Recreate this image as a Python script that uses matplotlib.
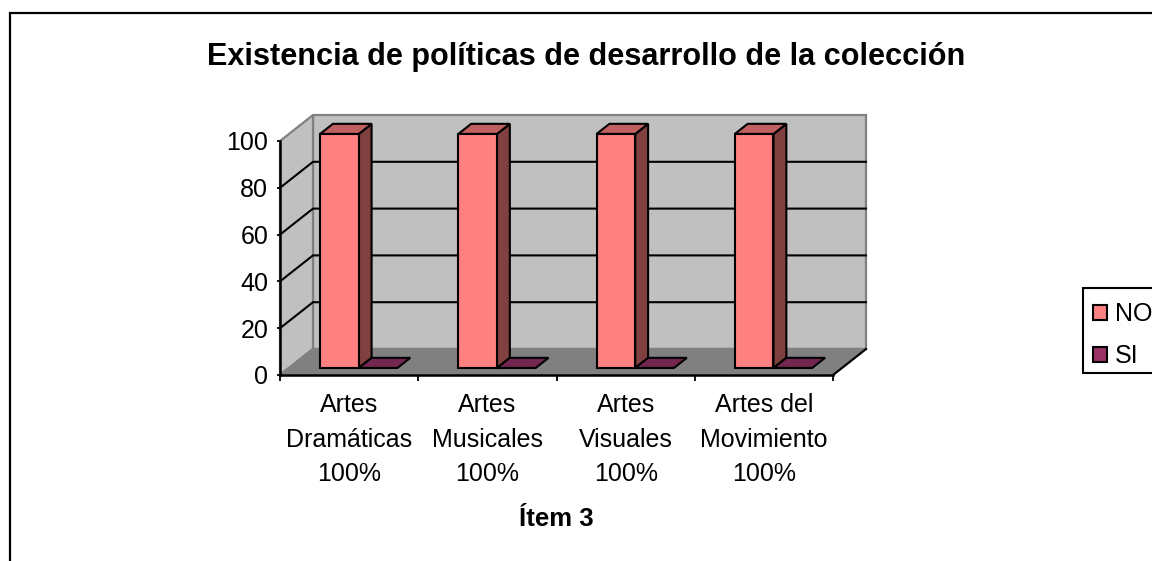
import matplotlib
matplotlib.use('Agg')
import matplotlib.pyplot as plt
from matplotlib.lines import Line2D
from matplotlib.patches import Rectangle

plt.rcParams['font.family'] = ['Liberation Sans', 'DejaVu Sans']

# Datos del grafico
categorias = ['Artes\nDramáticas\n100%', 'Artes\nMusicales\n100%',
              'Artes\nVisuales\n100%', 'Artes del\nMovimiento\n100%']
valores_no = [100, 100, 100, 100]
valores_si = [0, 0, 0, 0]
ticks_y = [0, 20, 40, 60, 80, 100]

W, H = 1152, 561
# plano frontal en pixeles
X0, X1, Y_TOP, Y_BASE = 280, 833, 141, 375

# profundidad 3D en unidades de datos
DX = 33 / ((X1 - X0) / 4)
DY = 26 / ((Y_BASE - Y_TOP) / 100)
D_FRENTE, D_FONDO = 0.27, 0.66
ANCHO = 0.28
INICIO = 0.225


def proy(x, y, d):
    return x + d * DX, y + d * DY


def cara(ax, puntos, color, edge='black', lw=1.5, z=3):
    xs = [p[0] for p in puntos]
    ys = [p[1] for p in puntos]
    ax.fill(xs, ys, facecolor=color, edgecolor=edge, linewidth=lw, zorder=z,
            clip_on=False, joinstyle='miter')


def barra3d(ax, x, v, ancho, frente, lado, arriba, etiqueta=None):
    bx, by = proy(x, 0, D_FRENTE)
    # lado derecho y tapa
    if v > 0:
        cara(ax, [proy(x + ancho, 0, D_FRENTE), proy(x + ancho, 0, D_FONDO),
                  proy(x + ancho, v, D_FONDO), proy(x + ancho, v, D_FRENTE)], lado)
    cara(ax, [proy(x, v, D_FRENTE), proy(x + ancho, v, D_FRENTE),
              proy(x + ancho, v, D_FONDO), proy(x, v, D_FONDO)], arriba)
    ax.bar(bx, v, ancho, bottom=by, align='edge', color=frente, edgecolor='black',
           linewidth=1.5, zorder=4, clip_on=False, label=etiqueta)


fig = plt.figure(figsize=(W / 100, H / 100), dpi=100)
ax = fig.add_axes([X0 / W, 1 - Y_BASE / H, (X1 - X0) / W, (Y_BASE - Y_TOP) / H])
ax.set_xlim(0, 4)
ax.set_ylim(0, 100)
ax.patch.set_visible(False)

# paredes y piso
gris = '#808080'
n = len(categorias)
cara(ax, [proy(0, 0, 1), proy(n, 0, 1), proy(n, 100, 1), proy(0, 100, 1)], '#c0c0c0', gris, 1.6, 1)
cara(ax, [proy(0, 0, 0), proy(0, 0, 1), proy(0, 100, 1), proy(0, 100, 0)], '#c0c0c0', gris, 1.6, 1)
cara(ax, [proy(0, 0, 0), proy(n, 0, 0), proy(n, 0, 1), proy(0, 0, 1)], gris, gris, 1.6, 1)

# lineas de division
for t in ticks_y[1:-1]:
    a = proy(0, t, 0)
    b = proy(0, t, 1)
    c = proy(n, t, 1)
    ax.plot([a[0], b[0], c[0]], [a[1], b[1], c[1]], color='black', lw=1.5, zorder=2,
            clip_on=False, solid_joinstyle='miter')
a = proy(n, 0, 0)
b = proy(n, 0, 1)
ax.plot([a[0], b[0]], [a[1], b[1]], color='black', lw=1.5, zorder=2, clip_on=False)

for i in range(n):
    barra3d(ax, i + INICIO, valores_no[i], ANCHO, '#ff8080', '#804040', '#c06060',
            'NO' if i == 0 else None)
    barra3d(ax, i + INICIO + ANCHO, valores_si[i], ANCHO, '#993366', '#4d1a33', '#732650',
            'SI' if i == 0 else None)

for s in ['top', 'right']:
    ax.spines[s].set_visible(False)
for s in ['left', 'bottom']:
    ax.spines[s].set_linewidth(1.8)
    ax.spines[s].set_zorder(5)

ax.set_yticks(ticks_y)
ax.set_xticks(range(n + 1))
ax.set_xticklabels([])
ax.set_xticks([i + 0.5 for i in range(n)], minor=True)
ax.set_xticklabels(categorias, minor=True, fontsize=18, linespacing=1.55)
ax.tick_params(axis='x', which='minor', length=0, pad=13)
ax.tick_params(axis='x', which='major', length=4.5, width=1.3)
ax.tick_params(axis='y', which='major', length=2.5, width=1.3, labelsize=18, pad=6)
ax.set_xlabel('Ítem 3', fontsize=18.5, fontweight='bold', labelpad=15)

fig.text(586 / W, 1 - 65 / H, 'Existencia de políticas de desarrollo de la colección',
         fontsize=22.1, fontweight='bold', ha='center', va='baseline')

# marco de la leyenda, se corta en el borde derecho igual que el original
fig.add_artist(Rectangle((1083 / W, 1 - 373 / H), 100 / W, 85 / H, transform=fig.transFigure,
                         facecolor='white', edgecolor='black', linewidth=1.5))
leg = fig.legend(loc='upper left', bbox_to_anchor=(1083 / W, 1 - 292 / H), fontsize=18,
                 frameon=False, borderaxespad=0,
                 handlelength=0.56, handleheight=0.56, handletextpad=0.32,
                 borderpad=0.4, labelspacing=0.73)

# marco exterior del grafico
fig.add_artist(Line2D([9.5 / W, 9.5 / W, 1], [0, 1 - 13 / H, 1 - 13 / H],
                      transform=fig.transFigure, color='black', lw=1.6,
                      solid_joinstyle='miter'))

fig.savefig('out.png', dpi=100)
